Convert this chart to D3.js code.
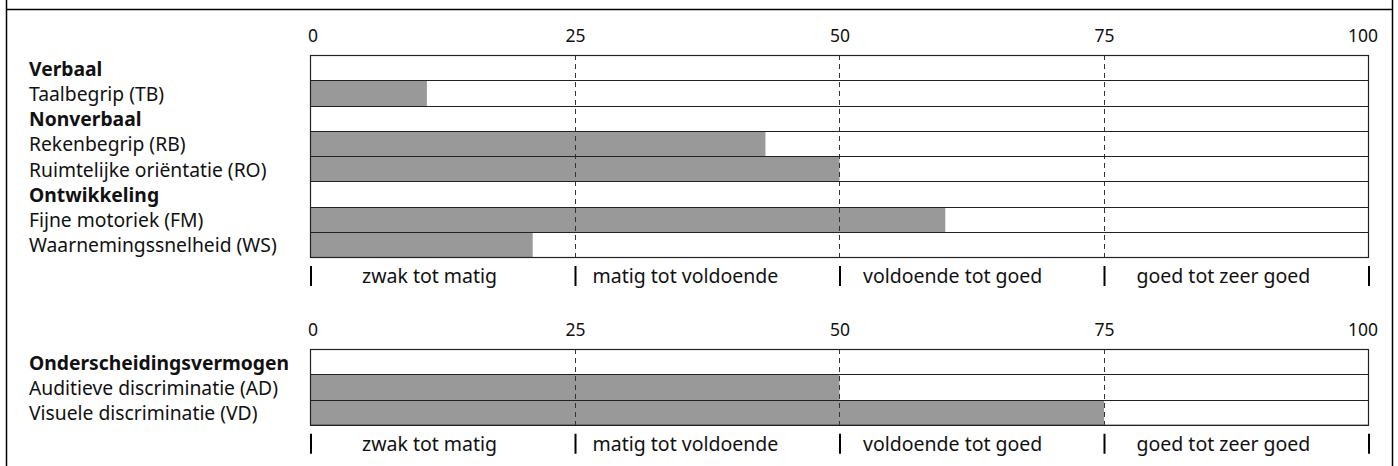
<!DOCTYPE html>
<html>
<head>
<meta charset="utf-8">
<script src="https://cdn.jsdelivr.net/npm/d3@7"></script>
<style>
  body { margin: 0; background: #fff; }
  svg text { font-family: "Noto Sans", sans-serif; fill: #111; }
</style>
</head>
<body>
<svg width="1398" height="466"></svg>
<script>
const svg = d3.select("svg");

// panel 1
const labels1 = ["Verbaal", "Taalbegrip (TB)", "Nonverbaal", "Rekenbegrip (RB)",
  "Ruimtelijke oriëntatie (RO)", "Ontwikkeling", "Fijne motoriek (FM)", "Waarnemingssnelheid (WS)"];
const isHeader1 = [true, false, true, false, false, true, false, false];
const values1 = [null, 11, null, 43, 50, null, 60, 21];

// panel 2
const labels2 = ["Onderscheidingsvermogen", "Auditieve discriminatie (AD)", "Visuele discriminatie (VD)"];
const isHeader2 = [true, false, false];
const values2 = [null, 50, 75];

const ticks = [0, 25, 50, 75, 100];
const bands = ["zwak tot matig", "matig tot voldoende", "voldoende tot goed", "goed tot zeer goed"];

const x = d3.scaleLinear().domain([0, 100]).range([310, 1368]);
const rowH = 25.25;
const bandPad = [52, 18, 24, 33]; // text indent after each marker

// outer frame
svg.append("path")
  .attr("d", "M6.5,0 V466 M6.5,9.5 H1392.5 M1392.5,0 V466")
  .attr("fill", "none").attr("stroke", "#000").attr("stroke-width", 1.5);

function panel(labels, isHeader, values, top) {
  const g = svg.append("g");
  const y = d3.scaleBand().domain(d3.range(labels.length))
    .range([top, top + labels.length * rowH]);
  const bottom = top + labels.length * rowH;

  // tick numbers
  g.selectAll(".tick").data(ticks).enter().append("text")
    .attr("x", (d, i) => i === 0 ? x(d) - 2 : i === ticks.length - 1 ? x(d) + 10 : x(d) + 1)
    .attr("y", top - 19)
    .attr("dy", "0.35em")
    .attr("text-anchor", (d, i) => i === 0 ? "start" : i === ticks.length - 1 ? "end" : "middle")
    .attr("font-size", 17.5)
    .text(d => d);

  // rows
  g.append("rect")
    .attr("x", x(0) + 0.5).attr("y", top + 0.5)
    .attr("width", x(100) - x(0)).attr("height", bottom - top)
    .attr("fill", "#fff");

  g.selectAll(".bar").data(values.map((v, i) => ({ v, i })).filter(d => d.v != null))
    .enter().append("rect")
    .attr("x", x(0) + 0.5)
    .attr("y", d => y(d.i) + 0.5)
    .attr("width", d => x(d.v) - x(0))
    .attr("height", y.bandwidth())
    .attr("fill", "#999");

  // dashed gridlines
  g.selectAll(".grid").data([25, 50, 75]).enter().append("line")
    .attr("x1", d => Math.round(x(d)) + 0.5).attr("x2", d => Math.round(x(d)) + 0.5)
    .attr("y1", top).attr("y2", bottom)
    .attr("stroke", "#333").attr("stroke-dasharray", "5,4");

  // row separators
  g.selectAll(".sep").data(d3.range(labels.length + 1)).enter().append("line")
    .attr("x1", x(0) + 0.5).attr("x2", x(100) + 0.5)
    .attr("y1", i => Math.round(top + i * rowH) + 0.5)
    .attr("y2", i => Math.round(top + i * rowH) + 0.5)
    .attr("stroke", "#222").attr("stroke-width", 1.2);

  g.append("rect")
    .attr("x", x(0) + 0.5).attr("y", top + 0.5)
    .attr("width", x(100) - x(0)).attr("height", bottom - top)
    .attr("fill", "none").attr("stroke", "#222").attr("stroke-width", 1.2);

  // labels
  g.selectAll(".lab").data(labels).enter().append("text")
    .attr("x", 29).attr("y", (d, i) => y(i) + y.bandwidth() / 2)
    .attr("dy", "0.42em")
    .attr("font-size", 19.3)
    .attr("font-weight", (d, i) => isHeader[i] ? "bold" : "normal")
    .text(d => d);

  // band markers and names
  const by = bottom + 19;
  g.selectAll(".mark").data(ticks).enter().append("line")
    .attr("x1", d => x(d) + 1).attr("x2", d => x(d) + 1)
    .attr("y1", by - 10).attr("y2", by + 10)
    .attr("stroke", "#000").attr("stroke-width", 2);

  g.selectAll(".band").data(bands).enter().append("text")
    .attr("x", (d, i) => x(ticks[i]) + bandPad[i])
    .attr("y", by).attr("dy", "0.38em")
    .attr("font-size", 19.5)
    .text(d => d);
}

panel(labels1, isHeader1, values1, 55);
panel(labels2, isHeader2, values2, 349);
</script>
</body>
</html>
